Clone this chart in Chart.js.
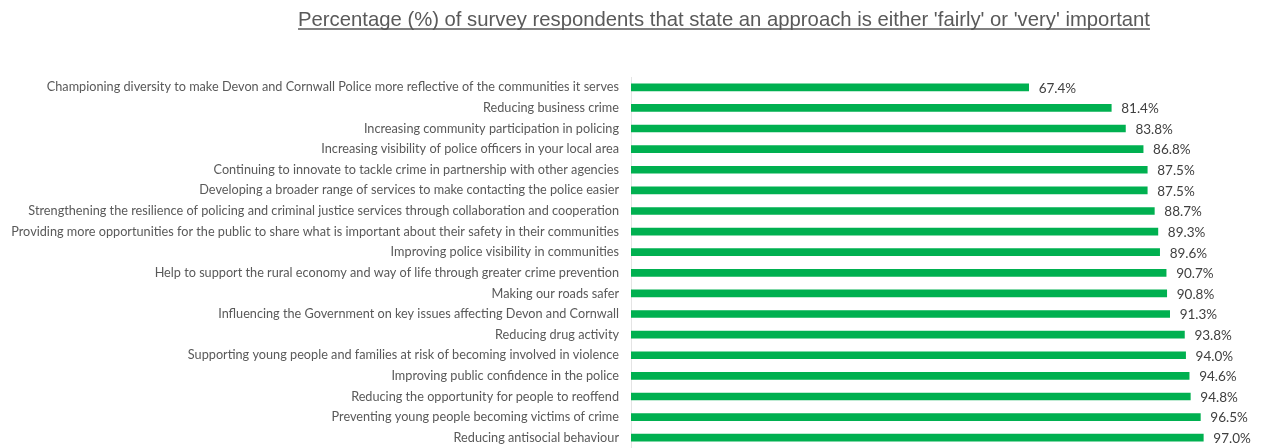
<!DOCTYPE html>
<html>
<head>
<meta charset="utf-8">
<script src="https://cdn.jsdelivr.net/npm/chart.js@4.4.0/dist/chart.umd.min.js"></script>
<style>
  html, body { margin: 0; padding: 0; background: #ffffff; }
  canvas { display: block; }
</style>
</head>
<body>
<canvas id="chart" width="1263" height="448"></canvas>
<script>
const chartTitle = "Percentage (%) of survey respondents that state an approach is either 'fairly' or 'very' important";

const approaches = [
  "Championing diversity to make Devon and Cornwall Police more reflective of the communities it serves",
  "Reducing business crime",
  "Increasing community participation in policing",
  "Increasing visibility of police officers in your local area",
  "Continuing to innovate to tackle crime in partnership with other agencies",
  "Developing a broader range of services to make contacting the police easier",
  "Strengthening the resilience of policing and criminal justice services through collaboration and cooperation",
  "Providing more opportunities for the public to share what is important about their safety in their communities",
  "Improving police visibility in communities",
  "Help to support the rural economy and way of life through greater crime prevention",
  "Making our roads safer",
  "Influencing the Government on key issues affecting Devon and Cornwall",
  "Reducing drug activity",
  "Supporting young people and families at risk of becoming involved in violence",
  "Improving public confidence in the police",
  "Reducing the opportunity for people to reoffend",
  "Preventing young people becoming victims of crime",
  "Reducing antisocial behaviour"
];

const importantPct = [67.4, 81.4, 83.8, 86.8, 87.5, 87.5, 88.7, 89.3, 89.6, 90.7, 90.8, 91.3, 93.8, 94.0, 94.6, 94.8, 96.5, 97.0];

const LABEL_FONT = "Lato, 'Noto Sans', sans-serif";

// Underlined title drawn above the plot
const titlePlugin = {
  id: 'underlinedTitle',
  afterDraw(chart) {
    const ctx = chart.ctx;
    ctx.save();
    ctx.font = "20.3px 'Liberation Sans', Arial, sans-serif";
    ctx.fillStyle = '#595959';
    ctx.textAlign = 'center';
    ctx.textBaseline = 'alphabetic';
    const cx = 724, by = 26;
    ctx.fillText(chartTitle, cx, by);
    const w = ctx.measureText(chartTitle).width;
    ctx.strokeStyle = '#595959';
    ctx.lineWidth = 1.3;
    ctx.beginPath();
    ctx.moveTo(cx - w / 2, by + 3);
    ctx.lineTo(cx + w / 2, by + 3);
    ctx.stroke();
    ctx.restore();
  }
};

// Percentage labels at the end of each bar
const valueLabels = {
  id: 'valueLabels',
  afterDatasetsDraw(chart) {
    const ctx = chart.ctx;
    const meta = chart.getDatasetMeta(0);
    ctx.save();
    ctx.font = "13.5px " + LABEL_FONT;
    ctx.fillStyle = '#404040';
    ctx.textAlign = 'left';
    ctx.textBaseline = 'middle';
    meta.data.forEach((bar, i) => {
      ctx.fillText(importantPct[i].toFixed(1) + '%', bar.x + 10, bar.y + 1);
    });
    ctx.restore();
  }
};

new Chart(document.getElementById('chart'), {
  type: 'bar',
  data: {
    labels: approaches,
    datasets: [{
      data: importantPct,
      backgroundColor: '#00B050',
      barThickness: 7,
      borderWidth: 0
    }]
  },
  options: {
    indexAxis: 'y',
    responsive: false,
    maintainAspectRatio: false,
    animation: false,
    layout: { padding: { top: 77, right: 42, bottom: 0, left: 0 } },
    plugins: {
      legend: { display: false },
      title: { display: false },
      tooltip: { enabled: false }
    },
    scales: {
      x: {
        min: 0,
        max: 100,
        display: false
      },
      y: {
        afterFit(scale) {
          scale.width = 631;
          // category rows fill the full height down to the canvas edge
          scale.paddingTop = 0;
          scale.paddingBottom = 0;
        },
        grid: { display: false, drawTicks: false },
        border: { display: true, color: '#e4e4e4', width: 1 },
        ticks: {
          autoSkip: false,
          padding: 12,
          color: '#595959',
          font: { family: LABEL_FONT, size: 12.7 }
        }
      }
    }
  },
  plugins: [titlePlugin, valueLabels]
});
</script>
</body>
</html>
